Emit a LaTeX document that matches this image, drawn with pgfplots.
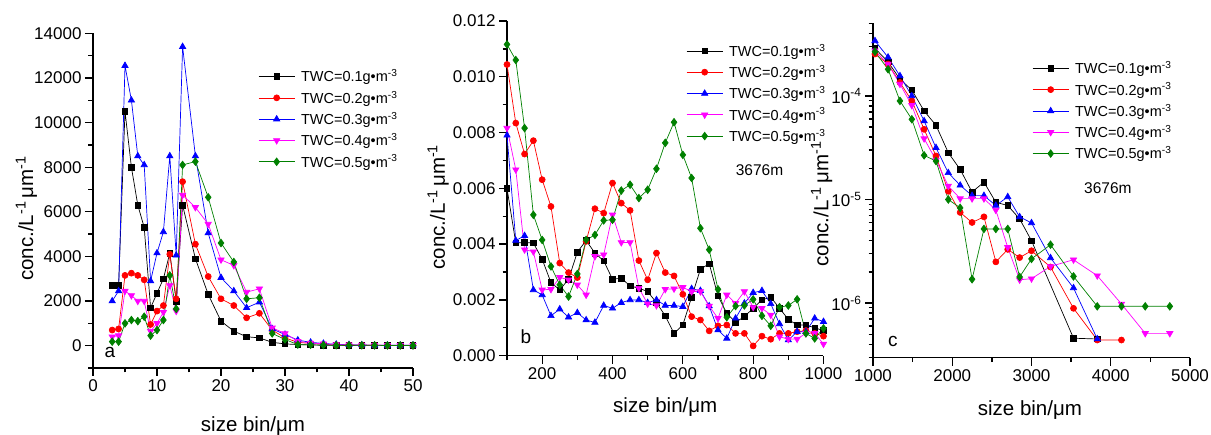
\documentclass[border=0pt]{standalone}
\usepackage{pgfplots}
\pgfplotsset{compat=1.18}
\usepackage{fontspec}
\setmainfont{Liberation Sans}
\definecolor{ogreen}{RGB}{0,128,0}
\definecolor{omag}{RGB}{255,0,255}

\pgfplotsset{
  panel/.style={
    scale only axis,
    axis x line=bottom, axis y line=left,
    axis line style={-, line width=1.4pt},
    tick align=outside,
    major tick length=8pt, minor tick length=4.5pt,
    tick style={black, line width=1.3pt},
    tick label style={font=\fontsize{17}{19}\selectfont},
    /pgf/number format/assume math mode=true,
    /pgf/number format/set thousands separator={},
    scaled ticks=false,
    label style={font=\fontsize{20.5}{22}\selectfont},
    clip=false,
    legend cell align=left,
    legend style={draw=none, fill=none, anchor=north west, inner sep=0pt,
      row sep=5.5pt, column sep=5pt,
      font=\fontsize{14.5}{16}\selectfont, nodes={inner sep=1pt}},
    legend image code/.code={\draw[mark repeat=2, mark phase=2, ##1]
      plot coordinates {(0pt,0pt) (18pt,0pt) (36pt,0pt)};},
  },
  s1/.style={black, line width=0.7pt, mark=square*, mark size=2.8pt},
  s2/.style={red, line width=0.7pt, mark=*, mark size=3pt},
  s3/.style={blue, line width=0.7pt, mark=triangle*, mark size=3.6pt},
  s4/.style={omag, line width=0.7pt, mark=triangle*, mark size=3.6pt, mark options={rotate=180}},
  s5/.style={ogreen, line width=0.7pt, mark=diamond*, mark size=3.8pt},
}

\begin{document}
\begin{tikzpicture}
\useasboundingbox (0,0) rectangle (1211pt,435pt);

% ---- panel a
\begin{axis}[panel,
  at={(93pt,67pt)}, anchor=south west,
  width=320pt, height=334.7pt,
  xmin=0, xmax=50, ymin=-1000, ymax=14000,
  xtick={0,10,...,50}, minor xtick={5,15,...,45},
  ytick={0,2000,...,14000}, minor ytick={-1000,1000,...,13000},
  xlabel={size bin/μm},
  ylabel={conc./L\textsuperscript{-1}\,μm\textsuperscript{-1}},
  xlabel style={at={(axis description cs:0.5,-0.19)}, anchor=base},
  ylabel style={at={(axis description cs:-0.187,0.447)}, anchor=base},
  legend style={at={(0.516,0.895)}},
]
\addplot[s1] coordinates {(3,2700)(4,2700)(5,10500)(6,8000)(7,6300)(8,5300)(9,1700)(10,2350)(11,3000)(12,4150)(13,2000)(14,6300)(16,3900)(18,2300)(20,1100)(22,650)(24,400)(26,350)(28,150)(30,80)(32,50)(34,30)(36,20)(38,15)(40,10)(42,10)(44,5)(46,5)(48,5)(50,5)};
\addlegendentry{TWC=0.1g•m\textsuperscript{-3}}
\addplot[s2] coordinates {(3,700)(4,750)(5,3150)(6,3250)(7,3150)(8,2950)(9,950)(10,1550)(11,1800)(12,4100)(13,2100)(14,7350)(16,4550)(18,3100)(20,2100)(22,1800)(24,1250)(26,1450)(28,700)(30,350)(32,150)(34,100)(36,60)(38,40)(40,30)(42,20)(44,20)(46,10)(48,10)(50,10)};
\addlegendentry{TWC=0.2g•m\textsuperscript{-3}}
\addplot[s3] coordinates {(3,2000)(4,2450)(5,12550)(6,11000)(7,8500)(8,8100)(9,2900)(10,4150)(11,5100)(12,8500)(13,4050)(14,13400)(16,8500)(18,5050)(20,3050)(22,2450)(24,1700)(26,1950)(28,750)(30,500)(32,250)(34,150)(36,100)(38,60)(40,40)(42,30)(44,20)(46,20)(48,15)(50,15)};
\addlegendentry{TWC=0.3g•m\textsuperscript{-3}}
\addplot[s4] coordinates {(3,400)(4,450)(5,2450)(6,2250)(7,2000)(8,2000)(9,650)(10,1000)(11,1500)(12,2700)(13,1550)(14,6750)(16,6200)(18,5450)(20,3850)(22,3600)(24,2400)(26,2550)(28,800)(30,550)(32,200)(34,120)(36,80)(38,50)(40,40)(42,30)(44,20)(46,20)(48,15)(50,15)};
\addlegendentry{TWC=0.4g•m\textsuperscript{-3}}
\addplot[s5] coordinates {(3,180)(4,180)(5,1000)(6,1150)(7,1100)(8,1300)(9,450)(10,700)(11,1150)(12,3150)(13,1650)(14,8100)(16,8250)(18,6650)(20,4600)(22,3750)(24,2100)(26,2150)(28,550)(30,280)(32,50)(34,40)(36,30)(38,20)(40,20)(42,15)(44,15)(46,10)(48,10)(50,10)};
\addlegendentry{TWC=0.5g•m\textsuperscript{-3}}
\node[font=\fontsize{19}{20}\selectfont] at (axis description cs:0.053,0.045) {a};
\end{axis}

% ---- panel b
\begin{axis}[panel,
  at={(507pt,79.3pt)}, anchor=south west,
  width=316.5pt, height=334.7pt,
  xmin=100, xmax=1000, ymin=0, ymax=0.012,
  xtick={200,400,600,800,1000}, minor xtick={100,300,500,700,900},
  ytick={0,0.002,0.004,0.006,0.008,0.010,0.012},
  minor ytick={0.001,0.003,0.005,0.007,0.009,0.011},
  yticklabel style={/pgf/number format/.cd, fixed, fixed zerofill, precision=3},
  xlabel={size bin/μm},
  ylabel={conc./L\textsuperscript{-1}\,μm\textsuperscript{-1}},
  xlabel style={at={(axis description cs:0.5,-0.171)}, anchor=base},
  ylabel style={at={(axis description cs:-0.196,0.444)}, anchor=base},
  legend style={at={(0.566,0.935)}},
]
\addplot[s1] coordinates {(100,0.0060)(125,0.00404)(150,0.00406)(175,0.00404)(200,0.00346)(225,0.00262)(250,0.00236)(275,0.00274)(300,0.00371)(325,0.00413)(350,0.00368)(375,0.0034)(400,0.00274)(425,0.00278)(450,0.0025)(475,0.00242)(500,0.0023)(525,0.0019)(550,0.00143)(575,0.0008)(600,0.0011)(625,0.0021)(650,0.0031)(675,0.0033)(700,0.00214)(725,0.00152)(750,0.0012)(775,0.0014)(800,0.0017)(825,0.0020)(850,0.0021)(875,0.0017)(900,0.0013)(925,0.0011)(950,0.0011)(975,0.0010)(1000,0.0009)};
\addlegendentry{TWC=0.1g•m\textsuperscript{-3}}
\addplot[s2] coordinates {(100,0.01044)(125,0.00834)(150,0.00723)(175,0.00771)(200,0.00631)(225,0.00535)(250,0.00332)(275,0.00298)(300,0.0028)(325,0.0041)(350,0.00527)(375,0.00511)(400,0.00619)(425,0.00547)(450,0.00521)(475,0.00341)(500,0.00272)(525,0.00368)(550,0.00298)(575,0.00286)(600,0.0022)(625,0.0014)(650,0.00128)(675,0.00089)(700,0.00107)(725,0.0011)(750,0.0008)(775,0.0008)(800,0.00035)(825,0.0007)(850,0.00059)(875,0.0008)(900,0.0008)(925,0.00086)(950,0.0009)(975,0.0008)(1000,0.0007)};
\addlegendentry{TWC=0.2g•m\textsuperscript{-3}}
\addplot[s3] coordinates {(100,0.0079)(125,0.00413)(150,0.0043)(175,0.00236)(200,0.00218)(225,0.00143)(250,0.00167)(275,0.00138)(300,0.00154)(325,0.00128)(350,0.00119)(375,0.0018)(400,0.0017)(425,0.0019)(450,0.0020)(475,0.0020)(500,0.0019)(525,0.0020)(550,0.0018)(575,0.0018)(600,0.00176)(625,0.0024)(650,0.00233)(675,0.00178)(700,0.00092)(725,0.00062)(750,0.00134)(775,0.00188)(800,0.00226)(825,0.00233)(850,0.00186)(875,0.00114)(900,0.00056)(925,0.00086)(950,0.00086)(975,0.00134)(1000,0.00122)};
\addlegendentry{TWC=0.3g•m\textsuperscript{-3}}
\addplot[s4] coordinates {(100,0.00816)(125,0.00667)(150,0.0038)(175,0.00373)(200,0.00236)(225,0.00238)(250,0.00281)(275,0.00272)(300,0.00254)(325,0.00218)(350,0.00356)(375,0.00362)(400,0.00505)(425,0.00406)(450,0.00406)(475,0.00242)(500,0.00186)(525,0.0018)(550,0.00238)(575,0.0024)(600,0.00245)(625,0.0023)(650,0.0023)(675,0.00178)(700,0.00134)(725,0.00218)(750,0.00188)(775,0.0023)(800,0.00174)(825,0.0017)(850,0.00146)(875,0.00068)(900,0.00059)(925,0.0006)(950,0.0008)(975,0.0008)(1000,0.00042)};
\addlegendentry{TWC=0.4g•m\textsuperscript{-3}}
\addplot[s5] coordinates {(100,0.01116)(125,0.0106)(150,0.00816)(175,0.00505)(200,0.00415)(225,0.0032)(250,0.00254)(275,0.00212)(300,0.00293)(325,0.00415)(350,0.00433)(375,0.00485)(400,0.00487)(425,0.00592)(450,0.00613)(475,0.00565)(500,0.00595)(525,0.0067)(550,0.00763)(575,0.00837)(600,0.0072)(625,0.00637)(650,0.00457)(675,0.0038)(700,0.00238)(725,0.00138)(750,0.00178)(775,0.0018)(800,0.00202)(825,0.00143)(850,0.00107)(875,0.00174)(900,0.0018)(925,0.00202)(950,0.0008)(975,0.00062)(1000,0.00098)};
\addlegendentry{TWC=0.5g•m\textsuperscript{-3}}
\node[font=\fontsize{19}{20}\selectfont] at (axis description cs:0.06,0.057) {b};
\node[font=\fontsize{15.5}{17}\selectfont] at (axis description cs:0.798,0.555) {3676m};
\end{axis}

% ---- panel c
\begin{axis}[panel,
  at={(873pt,77.3pt)}, anchor=south west,
  width=317pt, height=335pt,
  ymode=log,
  xmin=1000, xmax=5000, ymin=2.97e-7, ymax=5.09e-4,
  xtick={1000,2000,3000,4000,5000}, minor xtick={1500,2500,3500,4500},
  ytick={1e-6,1e-5,1e-4},
  yticklabels={10\textsuperscript{-6},10\textsuperscript{-5},10\textsuperscript{-4}},
  minor ytick={3e-7,4e-7,5e-7,6e-7,7e-7,8e-7,9e-7,2e-6,3e-6,4e-6,5e-6,6e-6,7e-6,8e-6,9e-6,2e-5,3e-5,4e-5,5e-5,6e-5,7e-5,8e-5,9e-5,2e-4,3e-4,4e-4,5e-4},
  xlabel={size bin/μm},
  ylabel={conc./L\textsuperscript{-1}\,μm\textsuperscript{-1}},
  xlabel style={at={(axis description cs:0.495,-0.174)}, anchor=base},
  ylabel style={at={(axis description cs:-0.141,0.459)}, anchor=base},
  legend style={at={(0.502,0.888)}},
]
\addplot[s1] coordinates {(1025,2.88e-4)(1190,2.13e-4)(1340,1.45e-4)(1490,1.14e-4)(1645,7.16e-5)(1795,5.2e-5)(1950,2.83e-5)(2100,1.95e-5)(2250,1.18e-5)(2400,1.47e-5)(2550,9.4e-6)(2700,8.75e-6)(2850,6.5e-6)(3000,4.0e-6)(3530,4.58e-7)(3830,4.5e-7)};
\addlegendentry{TWC=0.1g•m\textsuperscript{-3}}
\addplot[s2] coordinates {(1025,2.54e-4)(1190,2.03e-4)(1340,1.35e-4)(1490,8.95e-5)(1645,4.76e-5)(1795,2.63e-5)(1950,1.2e-5)(2100,7.5e-6)(2250,6.0e-6)(2400,6.8e-6)(2550,2.5e-6)(2700,3.3e-6)(2850,2.75e-6)(3000,3.2e-6)(3240,2.23e-6)(3530,8.9e-7)(3830,4.4e-7)(4135,4.4e-7)};
\addlegendentry{TWC=0.2g•m\textsuperscript{-3}}
\addplot[s3] coordinates {(1025,3.4e-4)(1190,2.36e-4)(1340,1.56e-4)(1490,1.0e-4)(1645,5.73e-5)(1795,3.16e-5)(1950,1.81e-5)(2100,1.37e-5)(2250,1.09e-5)(2400,1.09e-5)(2550,8.75e-6)(2700,1.06e-5)(2850,6.8e-6)(3000,5.94e-6)(3240,2.73e-6)(3530,1.40e-6)(3830,4.5e-7)};
\addlegendentry{TWC=0.3g•m\textsuperscript{-3}}
\addplot[s4] coordinates {(1025,2.73e-4)(1190,2.03e-4)(1340,1.3e-4)(1490,8.1e-5)(1645,3.87e-5)(1795,2.4e-5)(1950,1.35e-5)(2100,1.02e-5)(2250,1.02e-5)(2400,1.02e-5)(2550,7.9e-6)(2700,3.45e-6)(2850,1.68e-6)(3000,1.72e-6)(3240,2.26e-6)(3530,2.62e-6)(3830,1.84e-6)(4135,9.8e-7)(4435,5.1e-7)(4745,5.1e-7)};
\addlegendentry{TWC=0.4g•m\textsuperscript{-3}}
\addplot[s5] coordinates {(1025,2.67e-4)(1190,1.81e-4)(1340,8.95e-5)(1490,5.95e-5)(1645,2.67e-5)(1795,2.35e-5)(1950,1.0e-5)(2100,8.3e-6)(2250,1.7e-6)(2400,5.2e-6)(2550,5.2e-6)(2700,5.2e-6)(2850,1.79e-6)(3000,2.67e-6)(3240,3.66e-6)(3530,1.81e-6)(3830,9.3e-7)(4135,9.3e-7)(4435,9.3e-7)(4745,9.3e-7)};
\addlegendentry{TWC=0.5g•m\textsuperscript{-3}}
\node[font=\fontsize{19}{20}\selectfont] at (axis description cs:0.063,0.047) {c};
\node[font=\fontsize{15.5}{17}\selectfont] at (axis description cs:0.741,0.507) {3676m};
\end{axis}
\end{tikzpicture}
\end{document}
